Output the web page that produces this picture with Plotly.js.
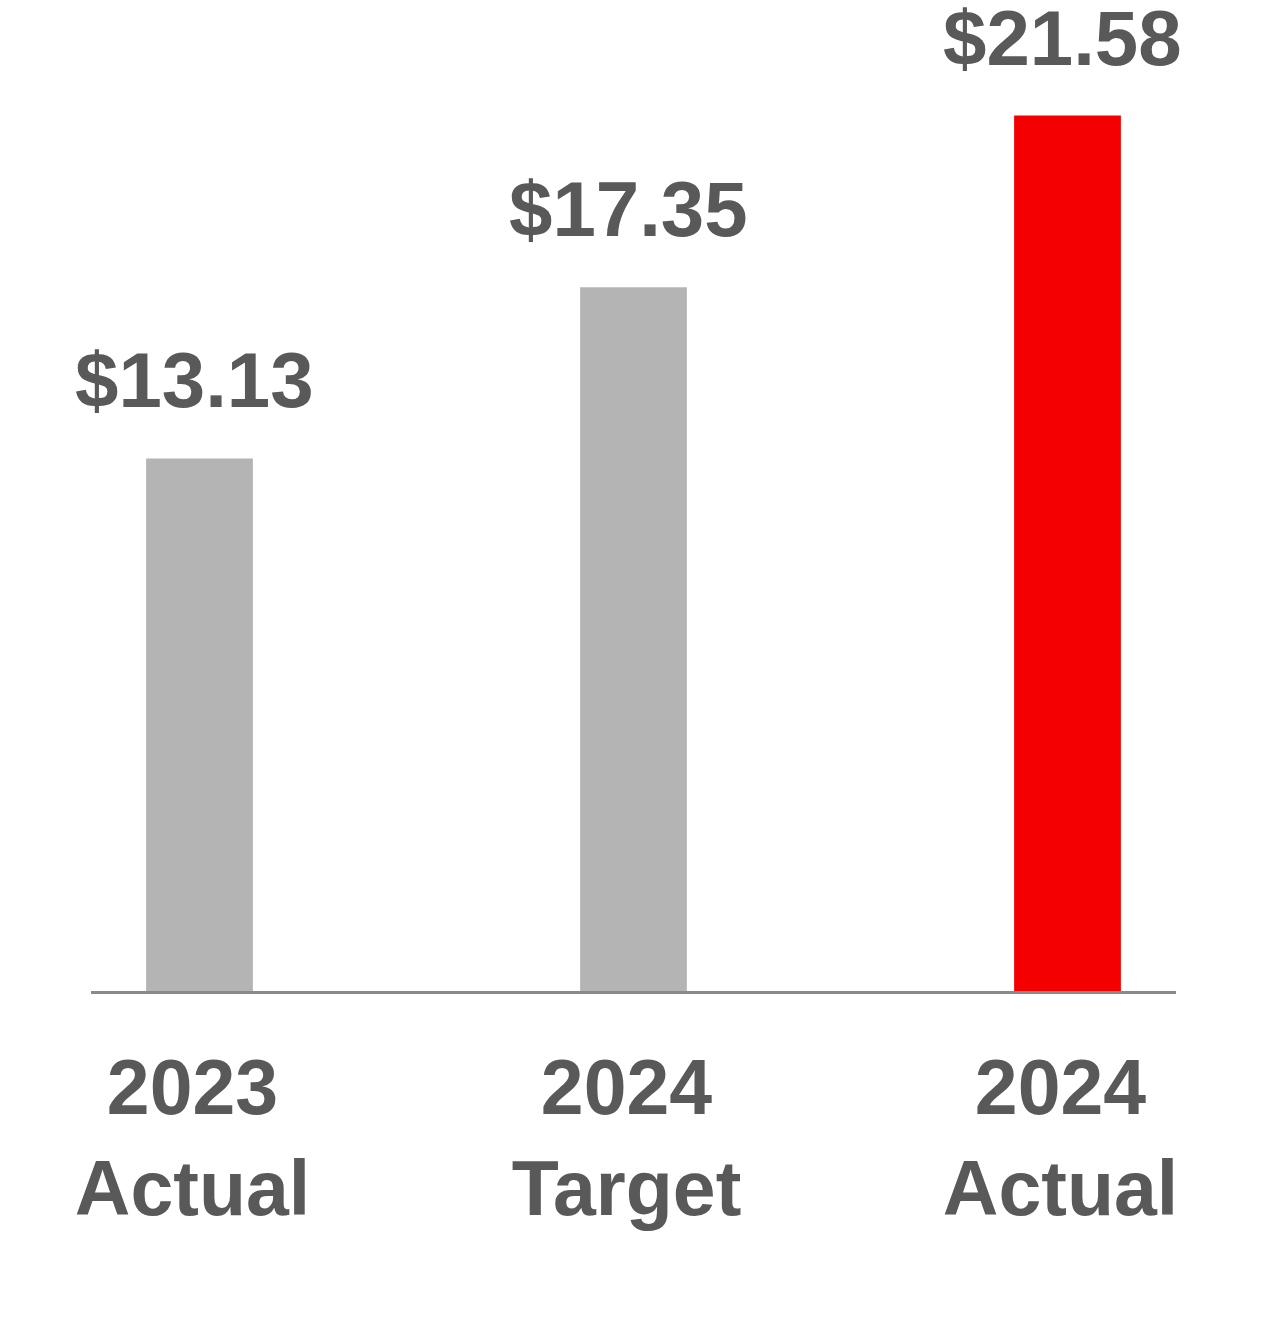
<!DOCTYPE html>
<html>
<head>
<meta charset="utf-8">
<script src="https://cdn.plot.ly/plotly-3.0.1.min.js"></script>
<style>html,body{margin:0;padding:0;background:#fff;}#chart{width:1266px;height:1320px;}</style>
</head>
<body>
<div id="chart"></div>
<script>
const categories = ["2023<br>Actual", "2024<br>Target", "2024<br>Actual"];
const values = [13.13, 17.35, 21.58];
const valueLabels = ["$13.13", "$17.35", "$21.58"];
const barColors = ["#b4b4b4", "#b4b4b4", "#f40000"];

const fontFam = "Liberation Sans, Arial, sans-serif";
const textColor = "#595959";

const trace = {
  type: "bar",
  x: categories,
  y: values,
  marker: {color: barColors},
  width: 0.246,
  hoverinfo: "none"
};

const annotations = categories.map((c, i) => ({
  x: c, y: values[i], xref: "x", yref: "y",
  text: valueLabels[i], showarrow: false,
  yanchor: "middle", xanchor: "center", yshift: 78, xshift: -5,
  font: {family: fontFam, size: 78, color: textColor, weight: "bold"}
}));

const layout = {
  width: 1266, height: 1320,
  margin: {l: 91, r: 90, t: 0, b: 329},
  paper_bgcolor: "#fff", plot_bgcolor: "#fff",
  showlegend: false,
  xaxis: {
    type: "category",
    range: [-0.25, 2.25],
    showgrid: false, zeroline: false,
    showline: true, linecolor: "#898989", linewidth: 3,
    ticks: "",
    ticklabelstandoff: 28,
    ticklabelshift: -7,
    tickfont: {family: fontFam, size: 77, color: textColor, weight: "bold"}
  },
  yaxis: {
    range: [0, 24.43],
    visible: false, showgrid: false, zeroline: false
  },
  annotations: annotations
};

Plotly.newPlot("chart", [trace], layout, {displayModeBar: false, staticPlot: true});
</script>
</body>
</html>
